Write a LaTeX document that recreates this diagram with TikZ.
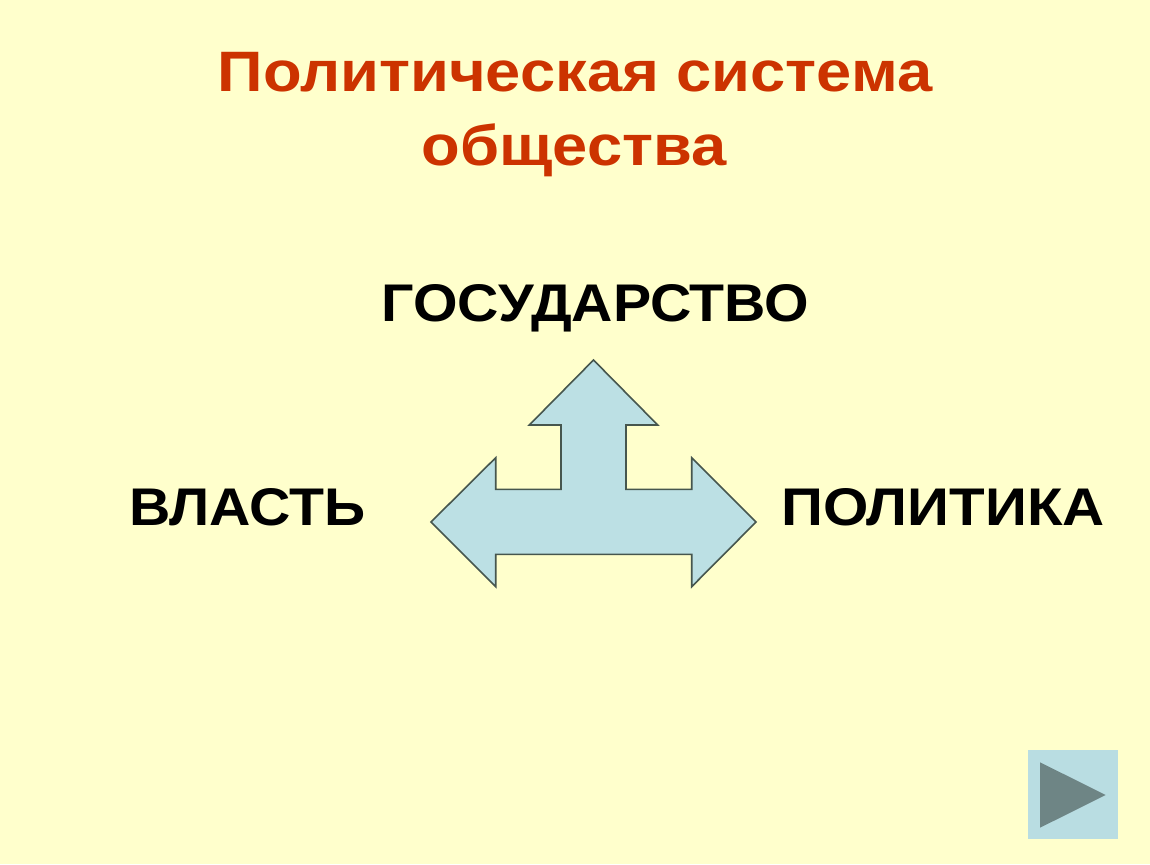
\documentclass[tikz,border=0pt]{standalone}
\usepackage{fontspec}
\setmainfont{Liberation Sans}
\definecolor{bg}{HTML}{FFFFCC}
\definecolor{titlered}{HTML}{CC3300}
\definecolor{arrowfill}{HTML}{BCE0E4}
\definecolor{arrowline}{HTML}{46564E}
\definecolor{btnfill}{HTML}{B9DDE2}
\definecolor{btntri}{HTML}{6E8585}
\newcommand{\wideT}[1]{\scalebox{1.11}[1]{#1}}
\newcommand{\wideL}[1]{\scalebox{1.08}[1]{#1}}
\begin{document}
\begin{tikzpicture}[x=1pt,y=-1pt,
  titletext/.style={anchor=base,inner sep=0pt,text=titlered,font=\fontsize{57}{60}\selectfont\bfseries},
  labeltext/.style={anchor=base,inner sep=0pt,text=black,font=\fontsize{53}{56}\selectfont\bfseries},
  bigarrow/.style={fill=arrowfill,draw=arrowline,line width=1.6pt,line join=miter}]
\useasboundingbox[fill=bg] (0,0) rectangle (1150,864);
\node[titletext] (t1) at (575,92) {\wideT{Политическая система}};
\node[titletext] (t2) at (574,165) {\wideT{общества}};
\node[labeltext] (gos) at (595.5,321.7) {\wideL{ГОСУДАРСТВО}};
\node[labeltext] (vlast) at (247.5,525) {\wideL{ВЛАСТЬ}};
\node[labeltext] (polit) at (943,525) {\scalebox{1.1}[1]{ПОЛИТИКА}};
\draw[bigarrow] (593.5,360) -- (657.7,425) -- (626,425) -- (626,489.3) -- (691.7,489.3) -- (691.7,457.7) -- (756,522) -- (691.7,586.7) -- (691.7,554.3) -- (495.7,554.3) -- (495.7,586.7) -- (431,522) -- (495.7,457.7) -- (495.7,489.3) -- (561,489.3) -- (561,425) -- (529.3,425) -- cycle;
\fill[btnfill] (1028.3,750) rectangle (1118.3,839);
\fill[btntri] (1040,762.3) -- (1040,827.7) -- (1105.7,795) -- cycle;
\end{tikzpicture}
\end{document}
